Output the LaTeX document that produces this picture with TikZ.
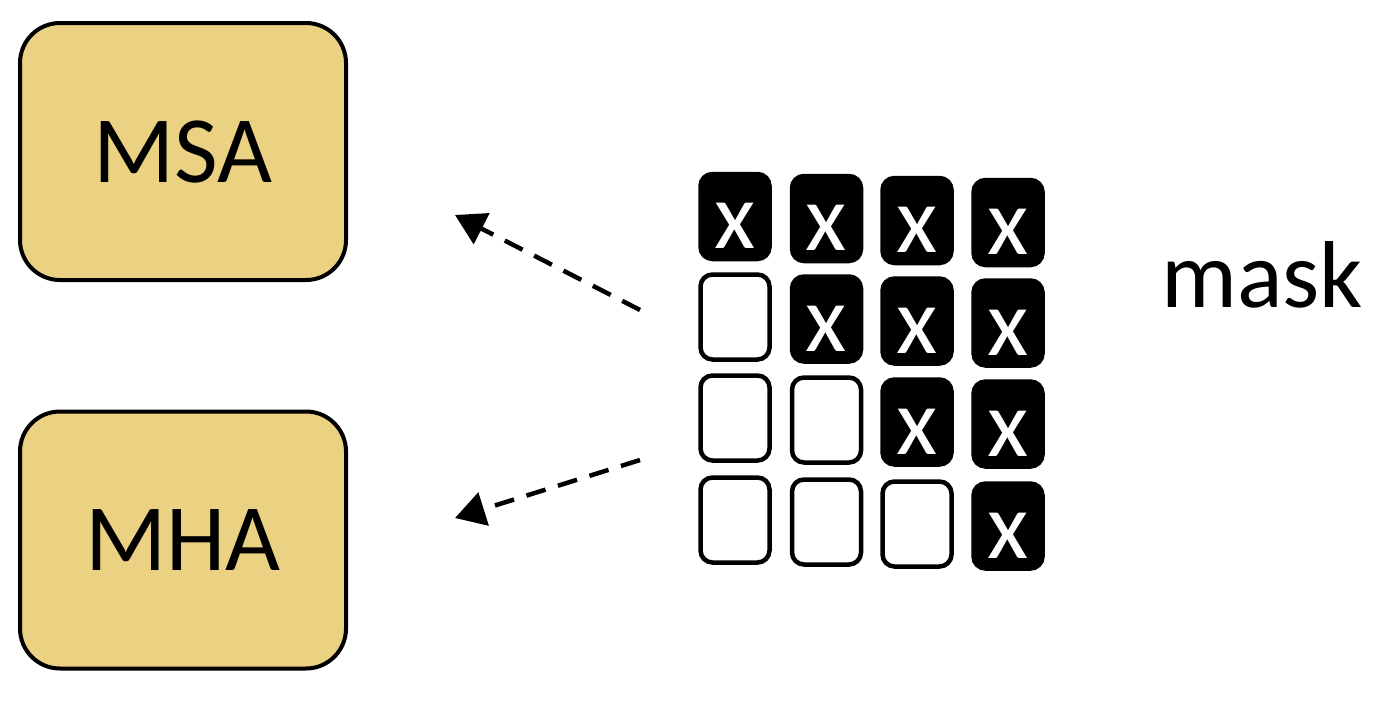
\documentclass[tikz,border=0pt]{standalone}
\usepackage{fontspec}
\setmainfont{Carlito}
\usetikzlibrary{arrows.meta}
\definecolor{boxfill}{RGB}{235,210,131}
\begin{document}
\begin{tikzpicture}[x=1pt,y=-1pt,
  bigbox/.style={draw=black, fill=boxfill, line width=4pt, rounded corners=40pt,
    minimum width=326pt, minimum height=257pt, inner sep=0pt,
    font=\fontsize{95}{100}\selectfont},
  cellon/.style={draw=black, fill=black, line width=4.5pt, rounded corners=12pt,
    minimum width=69pt, minimum height=85pt, inner sep=0pt, text=white,
    text height=64pt, text depth=0pt, font=\fontsize{95}{100}\selectfont},
  celloff/.style={draw=black, fill=white, line width=4.5pt, rounded corners=12pt,
    minimum width=69pt, minimum height=85pt, inner sep=0pt},
  maskarrow/.style={line width=4.5pt, dash pattern=on 20pt off 13pt,
    -{Triangle[length=30pt,width=34pt]}},
  lbl/.style={inner sep=0pt, font=\fontsize{95}{100}\selectfont}
]
\useasboundingbox (0,0) rectangle (1384,702);

\node[bigbox] (msa) at (183,151.5) {MSA};
\node[bigbox] (mha) at (183,540) {MHA};

% grid
\foreach \r/\ry in {1/216.5,2/317,3/418,4/520}{
  \foreach \c/\cx in {1/735,2/826.5,3/917,4/1008}{
    \pgfmathtruncatemacro{\on}{\c>=\r ? 1 : 0}
    \pgfmathsetmacro{\yy}{\ry+2*(\c-1)}
    \ifnum\on=1
      \node[cellon] (c\r\c) at (\cx,\yy) {x};
    \else
      \node[celloff] (c\r\c) at (\cx,\yy) {};
    \fi
  }
}

\node[lbl, anchor=base west] (mask) at (1161,307) {mask};

\coordinate (t1) at (640,310);
\coordinate (h1) at (455,215);
\coordinate (t2) at (640,460);
\coordinate (h2) at (455,518);
\draw[maskarrow] (t1) -- (h1);
\draw[maskarrow] (t2) -- (h2);
\end{tikzpicture}
\end{document}
